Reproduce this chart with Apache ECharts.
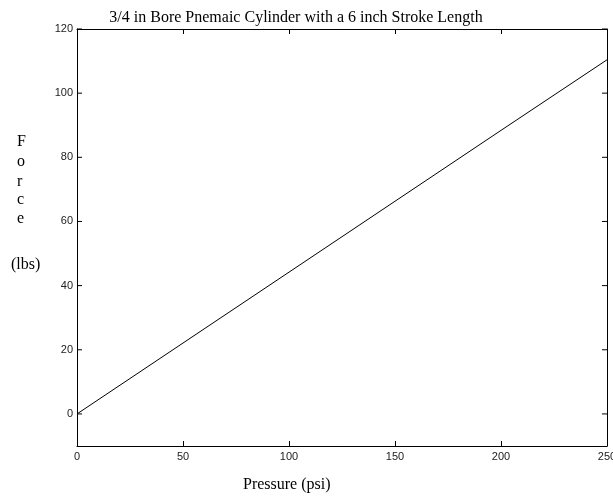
<!DOCTYPE html>
<html><head><meta charset="utf-8">
<script src="https://cdn.jsdelivr.net/npm/echarts@6/dist/echarts.min.js"></script>
<style>html,body{margin:0;padding:0;background:#fff}#c{width:613px;height:497px}</style>
</head><body><div id="c"></div>
<script>
var pressure = [0, 50, 100, 150, 200, 250];
var force = [0, 22.1, 44.2, 66.3, 88.4, 110.4];
var xTicks = [0, 50, 100, 150, 200, 250];
var yTicks = [0, 20, 40, 60, 80, 100, 120];
var titleText = '3/4 in Bore Pnemaic Cylinder with a 6 inch Stroke Length';
var xName = 'Pressure (psi)';
var yLetters = ['F', 'o', 'r', 'c', 'e'];
var yUnit = '(lbs)';

var chart = echarts.init(document.getElementById('c'), null, {renderer: 'canvas'});
var axisLine = {show: true, onZero: false, lineStyle: {color: '#000', width: 1}};
var tick = {show: true, inside: true, length: 5, lineStyle: {color: '#000'}};
var lbl = {color: '#222', fontFamily: 'Liberation Sans', fontSize: 11};
var graphics = [];
yLetters.forEach(function (ch, i) {
  graphics.push({type: 'text', left: 17, top: [134, 154, 174, 192, 211][i],
    style: {text: ch, fontFamily: 'Liberation Serif', fontSize: 16, fill: '#000'}});
});
graphics.push({type: 'text', left: 11, top: 257,
  style: {text: yUnit, fontFamily: 'Liberation Serif', fontSize: 16, fill: '#000'}});
graphics.push({type: 'text', left: 243, top: 477,
  style: {text: xName, fontFamily: 'Liberation Serif', fontSize: 16, fill: '#000'}});

chart.setOption({
  animation: false,
  backgroundColor: '#fff',
  title: {text: titleText, left: 291, top: 5, textAlign: 'center',
    textStyle: {fontFamily: 'Liberation Serif', fontSize: 16, fontWeight: 'normal', color: '#000'}},
  grid: {left: 77, right: 6, top: 29, bottom: 51, containLabel: false, outerBoundsMode: 'none'},
  graphic: graphics,
  xAxis: [
    {type: 'value', min: 0, max: 250, interval: 50, position: 'bottom',
     axisLine: axisLine, axisTick: tick, splitLine: {show: false},
     axisLabel: Object.assign({margin: 5, hideOverlap: false}, lbl)},
    {type: 'value', min: 0, max: 250, interval: 50, position: 'top',
     axisLine: axisLine, axisTick: tick, splitLine: {show: false}, axisLabel: {show: false}}
  ],
  yAxis: [
    {type: 'value', min: -10, max: 120, interval: 10, position: 'left',
     axisLine: axisLine, axisTick: {show: false}, splitLine: {show: false},
     axisLabel: Object.assign({margin: 4, formatter: function (v) { return yTicks.indexOf(v) >= 0 ? String(v) : ''; }}, lbl)},
    {type: 'value', min: -10, max: 120, interval: 10, position: 'right',
     axisLine: axisLine, axisTick: {show: false}, splitLine: {show: false}, axisLabel: {show: false}}
  ],
  series: [
    {type: 'line', xAxisIndex: 0, yAxisIndex: 0, symbol: 'none',
     data: pressure.map(function (p, i) { return [p, force[i]]; }),
     lineStyle: {color: '#000', width: 1}}
  ]
});

// y ticks on left and right (every 20), placed through the axis scale
var gl = [];
yTicks.forEach(function (v) {
  var p = chart.convertToPixel({yAxisIndex: 0}, v);
  var xl = chart.convertToPixel({xAxisIndex: 0}, 0);
  var xr = chart.convertToPixel({xAxisIndex: 0}, 250);
  gl.push({type: 'line', shape: {x1: xl, y1: p, x2: xl + 5, y2: p}, style: {stroke: '#000', lineWidth: 1}});
  gl.push({type: 'line', shape: {x1: xr - 5, y1: p, x2: xr, y2: p}, style: {stroke: '#000', lineWidth: 1}});
});
chart.setOption({graphic: graphics.concat(gl)});
</script></body></html>
